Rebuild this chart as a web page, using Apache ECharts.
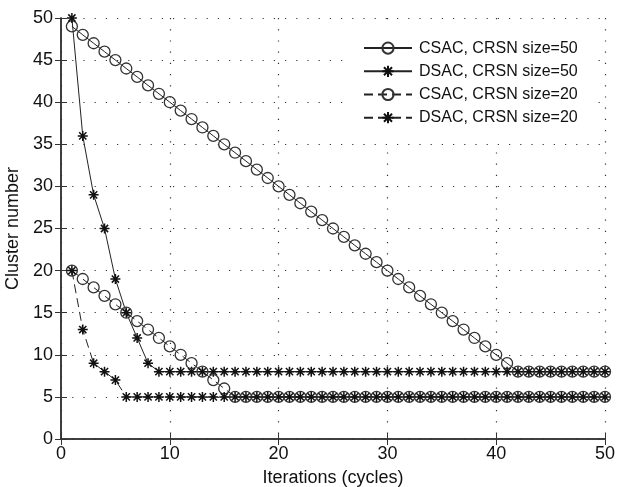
<!DOCTYPE html>
<html>
<head>
<meta charset="utf-8">
<script src="https://cdn.jsdelivr.net/npm/echarts@6/dist/echarts.min.js"></script>
<style>
  html, body { margin: 0; padding: 0; background: #fff; }
  #chart { width: 617px; height: 487px; }
</style>
</head>
<body>
<div id="chart"></div>
<script>
// data
const iterations = [1,2,3,4,5,6,7,8,9,10,11,12,13,14,15,16,17,18,19,20,21,22,23,24,25,26,27,28,29,30,31,32,33,34,35,36,37,38,39,40,41,42,43,44,45,46,47,48,49,50]
const csac50 = [49,48,47,46,45,44,43,42,41,40,39,38,37,36,35,34,33,32,31,30,29,28,27,26,25,24,23,22,21,20,19,18,17,16,15,14,13,12,11,10,9,8,8,8,8,8,8,8,8,8]
const dsac50 = [50,36,29,25,19,15,12,9,8,8,8,8,8,8,8,8,8,8,8,8,8,8,8,8,8,8,8,8,8,8,8,8,8,8,8,8,8,8,8,8,8,8,8,8,8,8,8,8,8,8]
const csac20 = [20,19,18,17,16,15,14,13,12,11,10,9,8,7,6,5,5,5,5,5,5,5,5,5,5,5,5,5,5,5,5,5,5,5,5,5,5,5,5,5,5,5,5,5,5,5,5,5,5,5]
const dsac20 = [20,13,9,8,7,5,5,5,5,5,5,5,5,5,5,5,5,5,5,5,5,5,5,5,5,5,5,5,5,5,5,5,5,5,5,5,5,5,5,5,5,5,5,5,5,5,5,5,5,5]
const seriesNames = ['CSAC, CRSN size=50', 'DSAC, CRSN size=50', 'CSAC, CRSN size=20', 'DSAC, CRSN size=20']

const font = 'Liberation Sans, Arial, sans-serif'
const ink = '#222'
const star = 'path://M0,-1L0,1M-1,0L1,0M-0.72,-0.72L0.72,0.72M-0.72,0.72L0.72,-0.72'

const pairs = ys => iterations.map((x, i) => [x, ys[i]])

function makeSeries (name, ys, marker, dashed) {
  const isStar = marker === 'star'
  return {
    name,
    type: 'line',
    data: pairs(ys),
    symbol: isStar ? star : 'circle',
    symbolSize: isStar ? 10 : 11,
    showAllSymbol: true,
    lineStyle: { color: ink, width: 1, type: dashed ? [9, 5] : 'solid' },
    itemStyle: { color: 'none', borderColor: isStar ? '#111' : '#333', borderWidth: isStar ? 1.5 : 1.3 },
    emphasis: { disabled: true },
    animation: false
  }
}

const gridDots = { show: true, lineStyle: { color: '#333', type: [1.2, 10], width: 1.2 } }
const common = {
  axisLine: { show: true, lineStyle: { color: '#333', width: 1.5 } },
  axisTick: { show: true, inside: true, length: 6, lineStyle: { color: '#333' } }
}
const tickText = { fontFamily: font, fontSize: 18, color: '#111' }

const chart = echarts.init(document.getElementById('chart'))
chart.setOption({
  backgroundColor: '#fff',
  animation: false,
  grid: { left: 61, right: 12, top: 18, bottom: 48, containLabel: false, outerBoundsMode: 'none' },
  legend: {
    data: seriesNames,
    orient: 'vertical',
    left: 351,
    top: 20,
    itemWidth: 48,
    itemHeight: 14,
    itemGap: 7,
    backgroundColor: '#fff',
    padding: [20, 12, 18, 12],
    textStyle: { fontFamily: font, fontSize: 16, color: '#111', padding: [0, 0, 0, 2] }
  },
  xAxis: [{
    ...common,
    type: 'value',
    min: 0,
    max: 50,
    interval: 10,
    name: 'Iterations (cycles)',
    nameLocation: 'middle',
    nameGap: 30,
    nameTextStyle: tickText,
    axisLabel: { ...tickText, margin: 6 },
    splitLine: gridDots
  }, {
    ...common,
    type: 'value',
    position: 'top',
    min: 0,
    max: 50,
    interval: 10,
    axisLabel: { show: false },
    splitLine: { show: false }
  }],
  yAxis: [{
    ...common,
    type: 'value',
    min: 0,
    max: 50,
    interval: 5,
    name: 'Cluster number',
    nameLocation: 'middle',
    nameGap: 35,
    nameTextStyle: tickText,
    axisLabel: { ...tickText, margin: 8 },
    splitLine: gridDots
  }, {
    ...common,
    type: 'value',
    position: 'right',
    min: 0,
    max: 50,
    interval: 5,
    axisLabel: { show: false },
    splitLine: { show: false }
  }],
  series: [
    makeSeries(seriesNames[0], csac50, 'circle', false),
    makeSeries(seriesNames[1], dsac50, 'star', false),
    makeSeries(seriesNames[2], csac20, 'circle', true),
    makeSeries(seriesNames[3], dsac20, 'star', true)
  ]
})
</script>
</body>
</html>
